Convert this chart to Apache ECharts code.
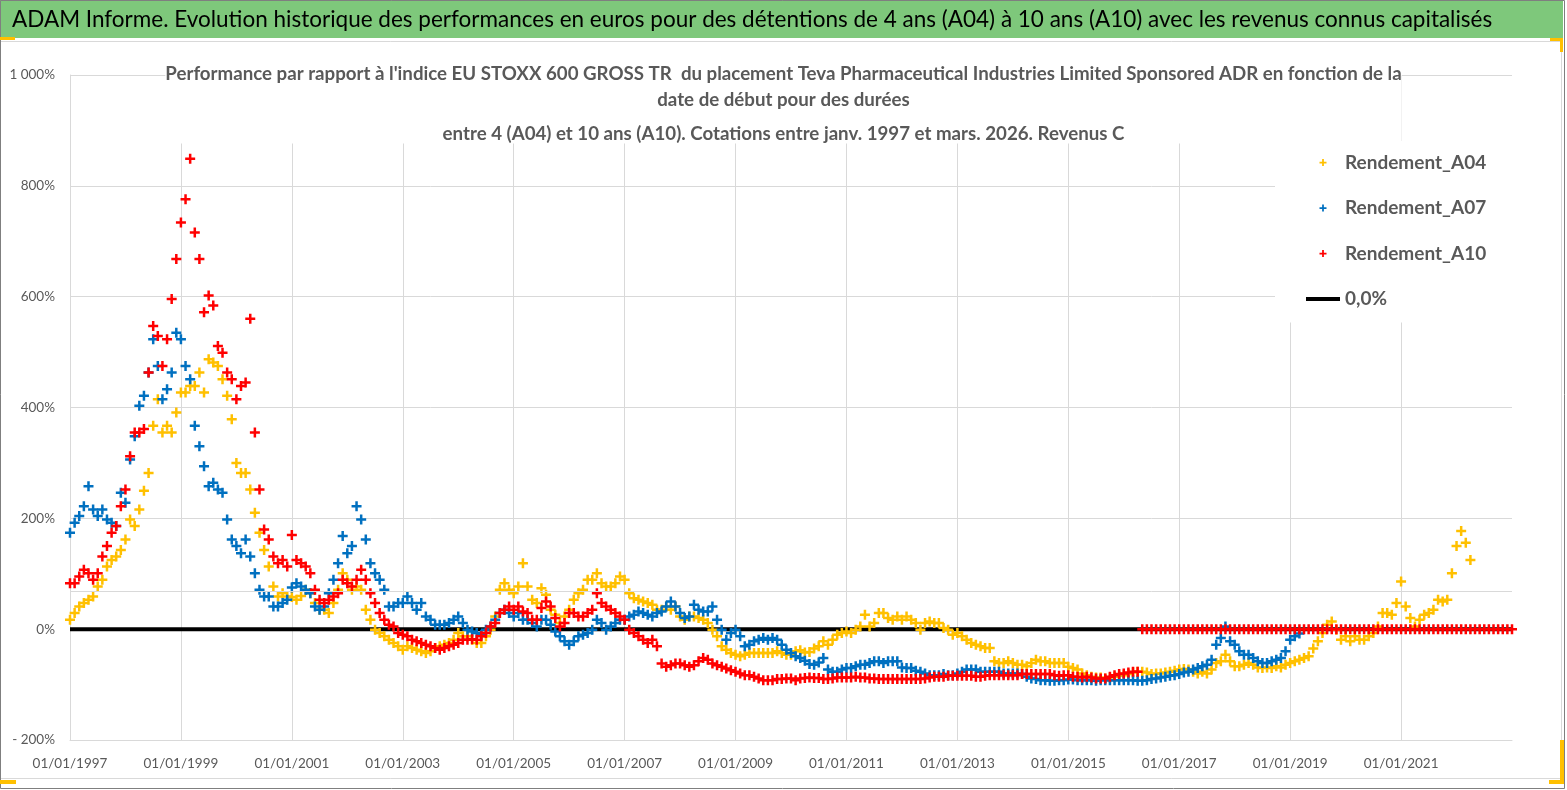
<!DOCTYPE html>
<html>
<head>
<meta charset="utf-8">
<script src="https://cdn.jsdelivr.net/npm/echarts@6/dist/echarts.min.js"></script>
<style>
  html, body { margin: 0; padding: 0; background: #fff; }
  #chart { width: 1567px; height: 790px; }
</style>
</head>
<body>
<div id="chart"></div>
<script>
// one value per month, first value = january 1997 (start date of the holding)
const START_YEAR = 1997
const LAST_MONTH = 312

// Rendement_A04 (%), jan 1997 -> apr 2022
const a04 = [
  17, 29, 41, 47, 53, 59, 77, 89, 113, 125, 131, 143,
  162, 198, 186, 216, 250, 282, 367, 415, 355, 367, 355, 391,
  427, 427, 439, 439, 463, 427, 487, 481, 475, 451, 421, 379,
  300, 282, 282, 252, 210, 174, 143, 113, 77, 59, 65, 59,
  58, 53, 60, 71, 65, 47, 35, 35, 29, 47, 71, 101,
  89, 71, 77, 71, 35, 17, -1, -7, -13, -19, -25, -31,
  -37, -31, -34, -37, -40, -43, -40, -34, -31, -28, -25, -19,
  -7, -13, -13, -19, -25, -25, -13, -1, 23, 71, 83, 71,
  65, 77, 119, 77, 53, 47, 74, 62, 35, 26, 11, 23,
  35, 53, 65, 71, 89, 89, 101, 83, 77, 77, 83, 95,
  89, 65, 56, 53, 50, 47, 44, 35, 35, 41, 35, 41,
  23, 17, 23, 23, 20, 17, 11, -1, -13, -31, -37, -43,
  -46, -49, -46, -43, -43, -43, -43, -43, -43, -40, -43, -46,
  -46, -40, -38, -42, -41, -35, -31, -22, -28, -19, -10, -7,
  -4, -7, -1, 5, 26, 5, 11, 29, 29, 20, 17, 23,
  17, 23, 17, 11, -1, 11, 14, 11, 11, 2, -1, -10,
  -7, -13, -19, -25, -28, -31, -34, -34, -58, -61, -61, -58,
  -61, -64, -64, -67, -61, -55, -58, -58, -61, -61, -61, -61,
  -68, -70, -73, -80, -83, -86, -87, -87, -89, -87, -86, -84,
  -83, -81, -78, -77, -77, -78, -81, -80, -80, -78, -77, -75,
  -73, -72, -73, -77, -80, -77, -80, -73, -61, -58, -46, -58,
  -67, -67, -64, -61, -64, -69, -70, -69, -70, -67, -69, -64,
  -61, -58, -55, -52, -49, -35, -22, -7, 8, 14, -1, -19,
  -13, -22, -13, -19, -19, -13, -7, 5, 29, 29, 26, 47,
  86, 41, 20, 5, 17, 26, 29, 35, 53, 50, 53, 101,
  150, 177, 156, 125
]

// Rendement_A07 (%), jan 1997 -> mar 2019
const a07 = [
  174, 192, 204, 222, 258, 216, 204, 216, 198, 192, 186, 246,
  228, 306, 348, 403, 421, 463, 523, 475, 415, 433, 463, 535,
  523, 475, 451, 367, 330, 294, 258, 264, 252, 246, 198, 162,
  150, 137, 162, 131, 101, 71, 59, 59, 41, 41, 47, 53,
  75, 83, 77, 71, 65, 41, 35, 41, 65, 89, 119, 168,
  137, 150, 222, 198, 162, 119, 101, 89, 71, 41, 41, 47,
  47, 59, 47, 35, 47, 23, 17, 8, 8, 8, 11, 17,
  23, 11, -1, -4, -7, -10, -1, 5, 17, 29, 35, 29,
  23, 29, 17, 17, 11, 5, 17, 17, 8, -4, -13, -22,
  -28, -22, -13, -10, -7, -1, 17, 11, -1, 5, 11, 17,
  17, 23, 26, 32, 29, 26, 23, 29, 32, 41, 50, 41,
  29, 20, 23, 44, 35, 32, 32, 41, 17, -1, -19, -7,
  -1, -13, -31, -28, -22, -19, -16, -19, -16, -19, -28, -37,
  -43, -49, -52, -57, -63, -64, -60, -52, -73, -77, -77, -73,
  -70, -70, -67, -64, -64, -61, -58, -58, -61, -58, -58, -58,
  -69, -70, -70, -75, -77, -80, -83, -83, -83, -81, -83, -83,
  -80, -77, -73, -73, -73, -77, -77, -77, -77, -77, -80, -80,
  -80, -80, -81, -86, -89, -90, -92, -92, -93, -93, -92, -92,
  -91, -91, -92, -92, -92, -92, -93, -92, -92, -92, -92, -92,
  -92, -92, -92, -93, -93, -92, -90, -89, -87, -86, -84, -83,
  -81, -78, -77, -73, -70, -67, -64, -55, -28, -16, 5, -22,
  -28, -40, -46, -46, -52, -58, -61, -61, -58, -55, -52, -40,
  -19, -13, -8
]

// Rendement_A10 (%), jan 1997 -> jan 2023 (0 once the 10 years are not known)
const a10 = [
  83, 83, 95, 107, 101, 89, 101, 131, 150, 174, 186, 222,
  252, 312, 355, 355, 361, 463, 547, 529, 475, 523, 596, 668,
  734, 776, 849, 716, 668, 572, 602, 584, 511, 499, 463, 451,
  415, 439, 445, 560, 355, 252, 180, 162, 131, 119, 125, 113,
  170, 125, 119, 113, 101, 71, 53, 47, 53, 59, 65, 89,
  83, 77, 89, 107, 89, 65, 47, 29, 17, 8, 5, -7,
  -10, -13, -19, -22, -25, -28, -31, -34, -37, -34, -31, -28,
  -25, -19, -19, -18, -19, -13, -7, 5, 11, 29, 35, 41,
  35, 41, 32, 29, 17, 17, 38, 50, 41, 20, 5, 11,
  29, 29, 23, 23, 29, 35, 65, 47, 41, 35, 29, 23,
  17, -1, -7, -13, -19, -25, -19, -31, -62, -68, -65, -62,
  -62, -65, -68, -65, -58, -52, -55, -62, -65, -68, -71, -74,
  -77, -80, -83, -83, -86, -89, -92, -92, -92, -90, -90, -89,
  -89, -92, -89, -88, -87, -88, -88, -90, -90, -89, -87, -87,
  -87, -87, -86, -87, -87, -89, -89, -90, -90, -90, -90, -90,
  -90, -90, -90, -90, -90, -89, -87, -86, -86, -86, -84, -84,
  -84, -84, -84, -84, -86, -86, -84, -83, -83, -83, -83, -83,
  -83, -83, -81, -81, -81, -81, -81, -81, -81, -83, -84, -83,
  -83, -86, -86, -87, -86, -87, -89, -89, -89, -86, -83, -81,
  -80, -78, -77, -77, 0, 0, 0, 0, 0, 0, 0, 0,
  0, 0, 0, 0, 0, 0, 0, 0, 0, 0, 0, 0,
  0, 0, 0, 0, 0, 0, 0, 0, 0, 0, 0, 0,
  0, 0, 0, 0, 0, 0, 0, 0, 0, 0, 0, 0,
  0, 0, 0, 0, 0, 0, 0, 0, 0, 0, 0, 0,
  0, 0, 0, 0, 0, 0, 0, 0, 0, 0, 0, 0,
  0, 0, 0, 0, 0, 0, 0, 0, 0, 0, 0, 0,
  0
]

const zeroLine = [[0, 0], [LAST_MONTH, 0]]
const refLevel = 68   // extra grey guide seen on the original
const seriesNames = ['Rendement_A04', 'Rendement_A07', 'Rendement_A10', '0,0%']
const seriesColors = ['#FFC000', '#0070C0', '#FF0000']

const bannerText = 'ADAM Informe. Evolution historique des performances en euros pour des détentions de 4 ans (A04) à 10 ans (A10) avec les revenus connus capitalisés'
const titleLines = [
  "Performance par rapport à l'indice EU STOXX 600 GROSS TR  du placement Teva Pharmaceutical Industries Limited Sponsored ADR en fonction de la",
  'date de début pour des durées',
  'entre 4 (A04) et 10 ans (A10). Cotations entre janv. 1997 et mars. 2026. Revenus C'
]

const plus = 'path://M3,0h2v3h3v2h-3v3h-2v-3h-3v-2h3z'
const dash = 'path://M0,0h34v4h-34z'
const toPoints = arr => arr.map((v, i) => [i, v])

const titleFont = { fontFamily: 'Lato', fontSize: 18.7, fontWeight: 'bold', color: '#595959' }

const chart = echarts.init(document.getElementById('chart'))

const scatter = (idx, data) => ({
  name: seriesNames[idx],
  type: 'scatter',
  data: toPoints(data),
  symbol: plus,
  symbolSize: 10,
  z: 3,
  itemStyle: { color: seriesColors[idx], opacity: 1 },
  emphasis: { disabled: true }
})

chart.setOption({
  animation: false,
  backgroundColor: '#fff',
  textStyle: { fontFamily: 'Lato' },
  title: {
    text: '{a|' + titleLines[0] + '}\n{b|' + titleLines[1] + '}\n{c|' + titleLines[2] + '}',
    left: 'center',
    top: 64,
    padding: 0,
    backgroundColor: '#fff',
    textStyle: {
      ...titleFont,
      rich: {
        a: { ...titleFont, lineHeight: 20 },
        b: { ...titleFont, lineHeight: 32 },
        c: { ...titleFont, lineHeight: 36 }
      }
    }
  },
  legend: {
    orient: 'vertical',
    left: 1275,
    top: 141,
    z: 8,
    padding: [12, 28, 14, 31],
    backgroundColor: '#fff',
    itemWidth: 34,
    itemHeight: 7,
    itemGap: 26.5,
    data: [
      { name: seriesNames[0] },
      { name: seriesNames[1] },
      { name: seriesNames[2] },
      { name: seriesNames[3], icon: dash }
    ],
    textStyle: { fontFamily: 'Lato', fontSize: 19, fontWeight: 'bold', color: '#595959' }
  },
  grid: { left: 70, right: 55, top: 75, bottom: 50 },
  xAxis: {
    type: 'value',
    min: 0,
    max: LAST_MONTH,
    interval: 24,
    axisLine: { show: true, onZero: false, lineStyle: { color: '#d9d9d9' } },
    axisTick: { show: false },
    splitLine: { show: true, showMaxLine: false, lineStyle: { color: '#d9d9d9' } },
    axisLabel: {
      showMaxLabel: false,
      margin: 17,
      fontSize: 13.5,
      color: '#595959',
      formatter: v => '01/01/' + (START_YEAR + v / 12)
    }
  },
  yAxis: {
    type: 'value',
    min: -200,
    max: 1000,
    interval: 200,
    axisLine: { show: true, lineStyle: { color: '#d9d9d9' } },
    axisTick: { show: false },
    splitLine: { lineStyle: { color: '#d9d9d9' } },
    axisLabel: {
      margin: 15,
      fontSize: 13.5,
      color: '#595959',
      formatter: v => v === 1000 ? '1 000%' : (v < 0 ? '- ' + (-v) + '%' : v + '%')
    }
  },
  series: [
    {
      name: seriesNames[3],
      type: 'line',
      data: zeroLine,
      symbol: 'none',
      showSymbol: false,
      z: 1,
      lineStyle: { color: '#000', width: 4 },
      itemStyle: { color: '#000' },
      markLine: {
        silent: true,
        symbol: 'none',
        label: { show: false },
        lineStyle: { color: '#d9d9d9', type: 'solid', width: 1 },
        data: [{ yAxis: refLevel }]
      }
    },
    scatter(0, a04),
    scatter(1, a07),
    scatter(2, a10)
  ],
  graphic: [
    { type: 'rect', silent: true, z: 10, shape: { x: 0, y: 0, width: 1563, height: 38 }, style: { fill: '#7ec87b' } },
    { type: 'text', silent: true, z: 11, x: 12, y: 20, style: { text: bannerText, fontFamily: 'Lato', fontSize: 22.5, fill: '#000', verticalAlign: 'middle' } },
    { type: 'rect', silent: true, z: 10, shape: { x: 0.5, y: 41.5, width: 1561, height: 737 }, style: { fill: 'none', stroke: '#d9d9d9', lineWidth: 1 } },
    { type: 'rect', silent: true, z: 10, shape: { x: 0.5, y: 0.5, width: 1564, height: 788 }, style: { fill: 'none', stroke: '#7f7f7f', lineWidth: 1 } },
    // orange corner handles
    { type: 'rect', silent: true, z: 12, shape: { x: 0, y: 37, width: 15, height: 3 }, style: { fill: '#FFC000' } },
    { type: 'rect', silent: true, z: 12, shape: { x: 1550, y: 38, width: 13, height: 3 }, style: { fill: '#FFC000' } },
    { type: 'rect', silent: true, z: 12, shape: { x: 1560, y: 38, width: 3, height: 14 }, style: { fill: '#FFC000' } },
    { type: 'rect', silent: true, z: 12, shape: { x: 0, y: 780, width: 16, height: 4 }, style: { fill: '#FFC000' } },
    { type: 'rect', silent: true, z: 12, shape: { x: 1560, y: 740, width: 4, height: 44 }, style: { fill: '#FFC000' } },
    { type: 'rect', silent: true, z: 12, shape: { x: 1549, y: 780, width: 15, height: 4 }, style: { fill: '#FFC000' } }
  ]
})
</script>
</body>
</html>
